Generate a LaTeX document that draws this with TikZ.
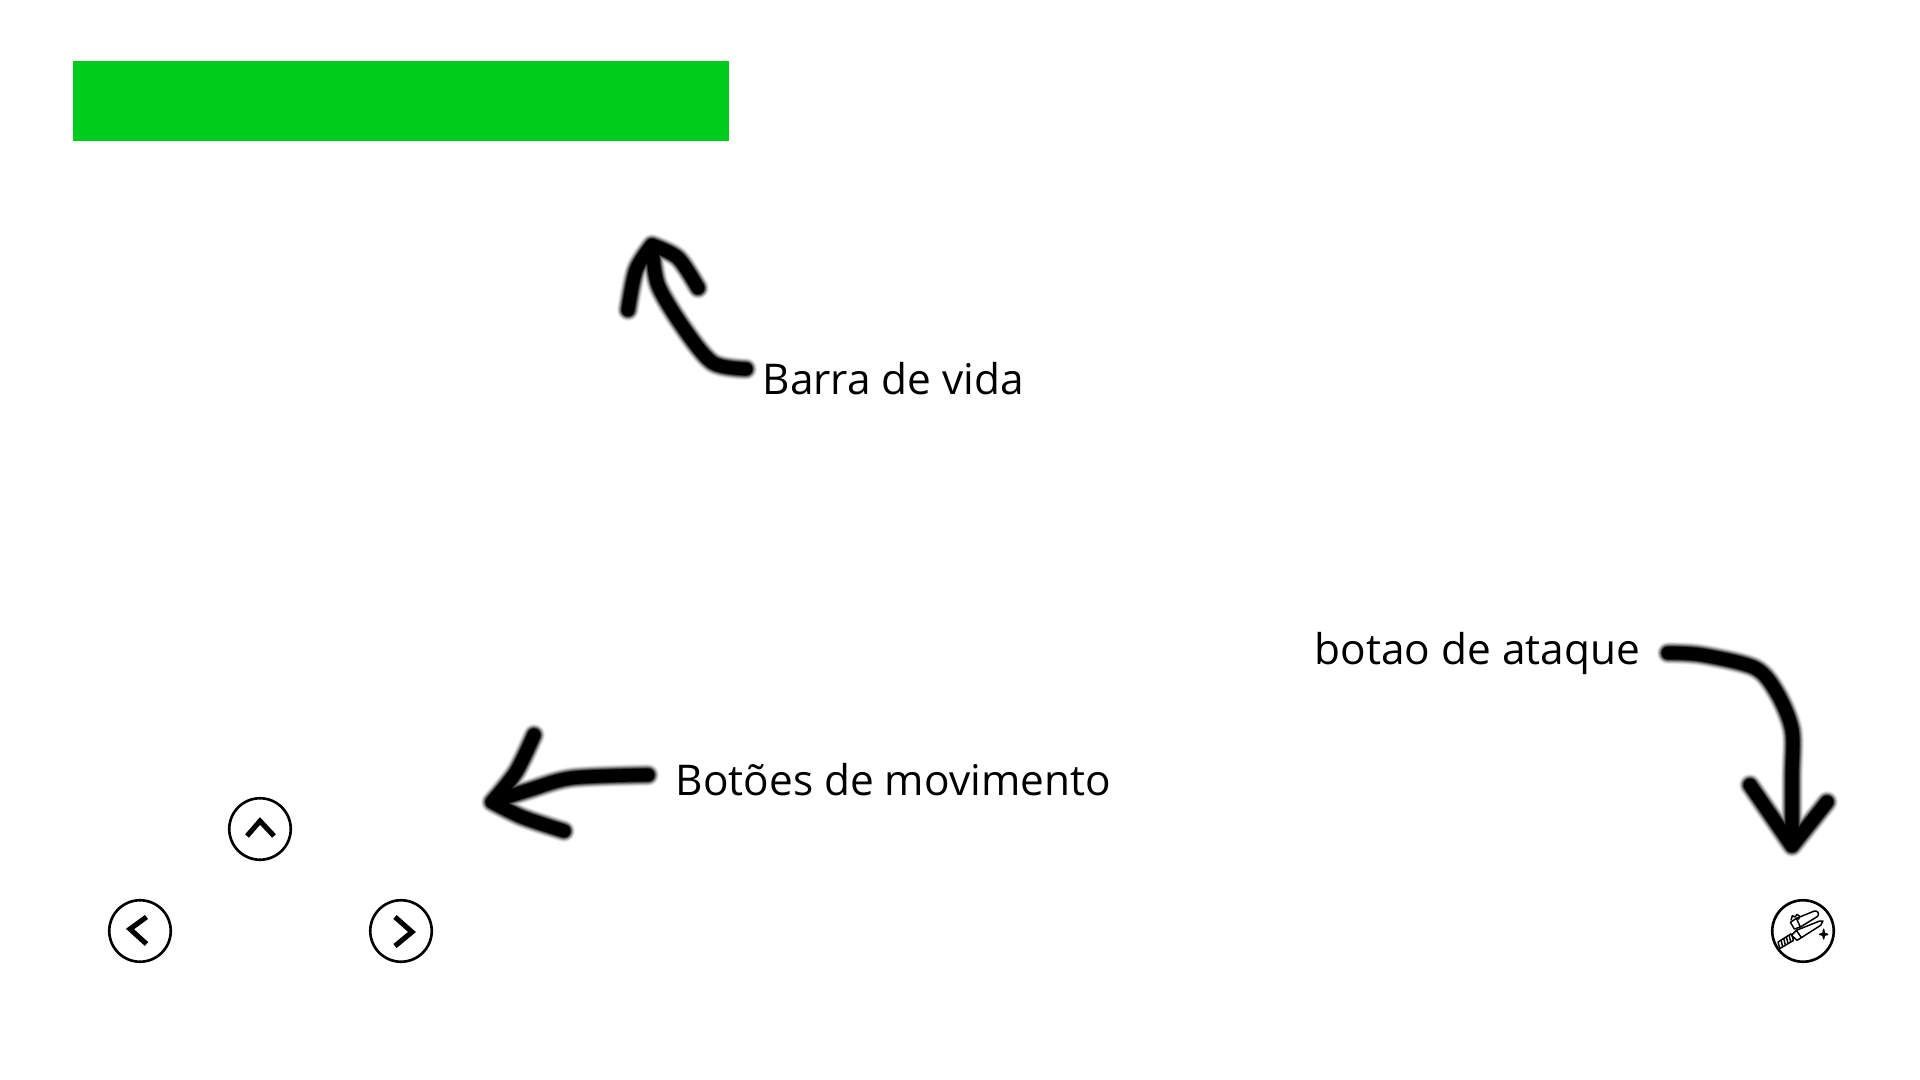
\documentclass[tikz,border=0pt]{standalone}
\usepackage{fontspec}
\setmainfont{Open Sans}
\definecolor{barGreen}{HTML}{00CC1B}
\tikzset{
	label/.style={anchor=base west, inner sep=0pt, font=\fontsize{12.05}{14}\selectfont},
	btn/.style={draw, circle, line width=0.75pt, minimum size=0.615cm, inner sep=0pt},
	chev/.style={line width=1.45pt, miter limit=10},
	ink/.style={line cap=round, line join=round, black},
	icon/.style={line width=0.42pt, line join=round}
}
\newcommand{\inkstroke}[1]{
	\foreach \w/\o in {6.4pt/0.06, 6.0pt/0.08, 5.6pt/0.12, 5.2pt/0.16, 4.8pt/0.22, 4.4pt/0.30, 4.0pt/0.45, 3.6pt/1}{
		\draw[ink, line width=\w, opacity=\o] #1;
	}
}
\begin{document}
\begin{tikzpicture}
	\useasboundingbox (0,0) rectangle (19.2,10.8);

	\draw (4.01,9.79) node[fill, barGreen, minimum width=6.56cm, minimum height=0.8cm, inner sep=0pt] (bar) {};

	\draw (7.62,6.855) node[label] (lifeText) {Barra de vida};
	\draw (6.75,2.84) node[label] (moveText) {Botões de movimento};
	\draw (13.14,4.155) node[label] (atkText) {botao de ataque};

	\draw (2.60,2.51) node[btn] (up) {};
	\draw (1.40,1.49) node[btn] (left) {};
	\draw (4.01,1.49) node[btn] (right) {};
	\draw (18.03,1.49) node[btn] (atk) {};

	\draw[chev] ([shift={(-0.13,-0.07)}]up.center) -- ([shift={(0,0.08)}]up.center) -- ([shift={(0.14,-0.07)}]up.center);
	\draw[chev] ([shift={(0.065,0.14)}]left.center) -- ([shift={(-0.10,0.02)}]left.center) -- ([shift={(0.065,-0.13)}]left.center);
	\draw[chev] ([shift={(-0.06,0.14)}]right.center) -- ([shift={(0.11,-0.01)}]right.center) -- ([shift={(-0.06,-0.15)}]right.center);

	% sword icon
	\begin{scope}[shift={(atk.center)}, x=0.00333cm, y=-0.00333cm]
		\draw[icon] (-20,-38) -- (34,-60) .. controls (44,-62) and (50,-52) .. (44,-44) -- (-8,-12);
		\draw[icon] (-38,-26) -- (-20,-38) -- (-8,-12) -- (-26,-6) -- cycle;
		\draw[icon] (-36,-32) -- (-32,-46) -- (-24,-42) -- (-18,-50) -- (-10,-44) -- (-14,-34);
		\draw[icon] (-20,-2) -- (50,-30) -- (60,-30) -- (53,-17) -- (-5,20);
		\draw[icon] (-35,13) -- (-20,-2) -- (-5,20) -- (-18,28) -- cycle;
		\draw[icon] (-35,8) -- (-75,33) -- (-70,53) -- (-28,28);
		\foreach \t in {0,1,2,3,4}{
			\draw[icon] (-66+8*\t,28-5*\t) -- (-61+8*\t,48-5*\t);
		}
		\draw[icon, fill] (62,-5) -- (64,7) -- (74,10) -- (64,13) -- (62,24) -- (60,13) -- (50,10) -- (60,7) -- cycle;
	\end{scope}

	% arrows
	\coordinate (lifeTail) at (7.46,7.11);
	\coordinate (lifeTip) at (6.52,8.35);
	\coordinate (moveTail) at (6.48,3.05);
	\coordinate (moveTip) at (4.92,2.78);
	\coordinate (atkTail) at (16.68,4.27);
	\coordinate (atkTip) at (17.92,2.34);

	\inkstroke{plot[smooth] coordinates {(lifeTail) (7.13,7.17) (6.85,7.50) (6.58,7.95) (lifeTip)}
		plot[smooth] coordinates {(6.28,7.70) (6.36,8.10) (lifeTip)}
		plot[smooth] coordinates {(lifeTip) (6.78,8.22) (6.98,7.92)}}
	\inkstroke{plot[smooth] coordinates {(moveTail) (5.72,3.02) (5.29,2.90) (moveTip)}
		plot[smooth] coordinates {(5.34,3.45) (5.16,3.08) (moveTip)}
		plot[smooth] coordinates {(moveTip) (5.22,2.63) (5.64,2.49)}}
	\inkstroke{plot[smooth] coordinates {(atkTail) (17.02,4.25) (17.55,4.12) (17.77,3.87) (17.92,3.50) (17.92,3.03) (atkTip)}
		plot[sharp plot] coordinates {(17.50,2.95) (atkTip) (18.27,2.78)}}
\end{tikzpicture}
\end{document}
